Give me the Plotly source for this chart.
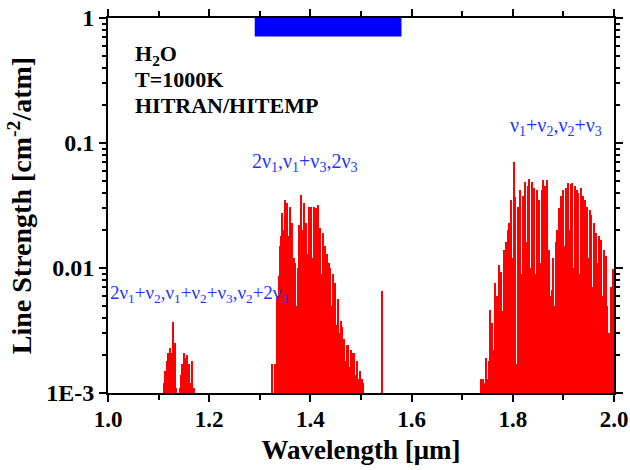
import plotly.graph_objects as go

# H2O line strengths at T = 1000 K (HITRAN/HITEMP), grouped by band
# wavelength in micrometres, strength in cm^-2/atm

# 2v1+v2, v1+v2+v3, v2+2v3 band (~1.13 um)
band_a_wl = [1.1100, 1.1120, 1.1140, 1.1160, 1.1180, 1.1200, 1.1220, 1.1240,
             1.1260, 1.1280, 1.1300, 1.1320, 1.1340,
             1.1420, 1.1440, 1.1460, 1.1480, 1.1500, 1.1520, 1.1540, 1.1560,
             1.1580, 1.1600, 1.1620, 1.1640, 1.1660, 1.1700]
band_a_s = [0.0012, 0.0015, 0.0013, 0.0018, 0.0021, 0.0016, 0.0023, 0.0021,
            0.0014, 0.0037, 0.0012, 0.0025, 0.0011,
            0.0011, 0.0014, 0.0017, 0.0013, 0.0021, 0.0019, 0.0015, 0.0020,
            0.0014, 0.0017, 0.0012, 0.0011, 0.0018, 0.0011]

# 2v1, v1+v3, 2v3 band (~1.4 um)
band_b_wl = [1.3250, 1.3300,
             1.3350, 1.3375, 1.3400, 1.3425, 1.3450, 1.3475, 1.3500, 1.3525,
             1.3550, 1.3575, 1.3600, 1.3625, 1.3650, 1.3675, 1.3700, 1.3725,
             1.3750, 1.3775, 1.3800, 1.3825, 1.3850, 1.3875, 1.3900, 1.3925,
             1.3950, 1.3975, 1.4000, 1.4025, 1.4050, 1.4075, 1.4100, 1.4125,
             1.4150, 1.4175, 1.4200, 1.4225, 1.4250, 1.4275, 1.4300, 1.4325,
             1.4350, 1.4375, 1.4400, 1.4425, 1.4450, 1.4475, 1.4500, 1.4525,
             1.4550, 1.4575, 1.4600, 1.4625, 1.4650, 1.4675, 1.4700, 1.4725,
             1.4750, 1.4775, 1.4800, 1.4825, 1.4850, 1.4875, 1.4900, 1.4925,
             1.4950, 1.4975, 1.5000, 1.5025, 1.5050,
             1.5420]
band_b_s = [0.0017, 0.0017,
            0.0060, 0.0086, 0.0149, 0.0180, 0.0275, 0.0200, 0.0347, 0.0250,
            0.0330, 0.0180, 0.0310, 0.0220, 0.0230, 0.0120, 0.0110, 0.0050,
            0.0100, 0.0220, 0.0150, 0.0386, 0.0200, 0.0330, 0.0150, 0.0230,
            0.0130, 0.0310, 0.0140, 0.0310, 0.0120, 0.0310, 0.0150, 0.0300,
            0.0320, 0.0100, 0.0210, 0.0090, 0.0190, 0.0080, 0.0150, 0.0130,
            0.0060, 0.0110, 0.0100, 0.0050, 0.0090, 0.0045, 0.0076, 0.0035,
            0.0056, 0.0030, 0.0038, 0.0034, 0.0020, 0.0027, 0.0018, 0.0024,
            0.0024, 0.0016, 0.0022, 0.0015, 0.0021, 0.0021, 0.0014, 0.0018,
            0.0013, 0.0015, 0.0011, 0.0013, 0.0012,
            0.0065]

# v1+v2, v2+v3 band (~1.87 um)
band_c_wl = [1.7375, 1.7400, 1.7425, 1.7450, 1.7475, 1.7500, 1.7525, 1.7550,
             1.7575, 1.7600, 1.7625, 1.7650, 1.7675, 1.7700, 1.7725, 1.7750,
             1.7775, 1.7800, 1.7825, 1.7850, 1.7875, 1.7900, 1.7925, 1.7950,
             1.7975, 1.8000, 1.8025, 1.8050, 1.8075, 1.8100, 1.8125, 1.8150,
             1.8175, 1.8200, 1.8225, 1.8250, 1.8275, 1.8300, 1.8325, 1.8350,
             1.8375, 1.8400, 1.8425, 1.8450, 1.8475, 1.8500, 1.8525, 1.8550,
             1.8575, 1.8600, 1.8625, 1.8650, 1.8675, 1.8700, 1.8725, 1.8750,
             1.8775, 1.8800, 1.8825, 1.8850, 1.8875, 1.8900, 1.8925, 1.8950,
             1.8975, 1.9000, 1.9025, 1.9050, 1.9075, 1.9100, 1.9125, 1.9150,
             1.9175, 1.9200, 1.9225, 1.9250, 1.9275, 1.9300, 1.9325, 1.9350,
             1.9375, 1.9400, 1.9425, 1.9450, 1.9475, 1.9500, 1.9525, 1.9550,
             1.9575, 1.9600, 1.9625, 1.9650, 1.9675, 1.9700, 1.9725, 1.9750,
             1.9775, 1.9800, 1.9825, 1.9850, 1.9875, 1.9900, 1.9925, 1.9950,
             1.9975]
band_c_s = [0.0013, 0.0011, 0.0013, 0.0012, 0.0019, 0.0013, 0.0018, 0.0046,
            0.0016, 0.0036, 0.0022, 0.0076, 0.0025, 0.0060, 0.0106, 0.0030,
            0.0093, 0.0045, 0.0140, 0.0050, 0.0160, 0.0203, 0.0230, 0.0055,
            0.0350, 0.0120, 0.0710, 0.0370, 0.0017, 0.0310, 0.0150, 0.0420,
            0.0090, 0.0380, 0.0110, 0.0490, 0.0160, 0.0450, 0.0520, 0.0100,
            0.0490, 0.0200, 0.0440, 0.0090, 0.0420, 0.0130, 0.0350, 0.0110,
            0.0420, 0.0510, 0.0160, 0.0450, 0.0510, 0.0090, 0.0140, 0.0060,
            0.0067, 0.0120, 0.0050, 0.0160, 0.0203, 0.0070, 0.0300, 0.0375,
            0.0110, 0.0420, 0.0150, 0.0440, 0.0120, 0.0480, 0.0200, 0.0470,
            0.0480, 0.0100, 0.0450, 0.0180, 0.0420, 0.0400, 0.0090, 0.0440,
            0.0140, 0.0380, 0.0350, 0.0080, 0.0310, 0.0120, 0.0290, 0.0267,
            0.0070, 0.0230, 0.0060, 0.0190, 0.0110, 0.0180, 0.0050, 0.0169,
            0.0060, 0.0140, 0.0040, 0.0124, 0.0050, 0.0030, 0.0022, 0.0070,
            0.0098]

# spectral window of the light source (um) and its marker height
source_window_um = [1.29, 1.58]
source_marker_s = [0.71, 1.0]

RED = "#ff0000"
SERIF = "Liberation Serif"

fig = go.Figure()

# sticks slightly wider than the line spacing so each band reads as a solid fill
fig.add_trace(go.Bar(x=band_a_wl, y=band_a_s, width=0.0024,
                     marker=dict(color=RED, line=dict(width=0)), showlegend=False))
fig.add_trace(go.Bar(x=band_b_wl, y=band_b_s, width=0.0029,
                     marker=dict(color=RED, line=dict(width=0)), showlegend=False))
fig.add_trace(go.Bar(x=band_c_wl, y=band_c_s, width=0.0029,
                     marker=dict(color=RED, line=dict(width=0)), showlegend=False))

# blue source-window marker along the top of the plot
w0, w1 = source_window_um
s0, s1 = source_marker_s
fig.add_trace(go.Scatter(x=[w0, w1, w1, w0, w0], y=[s0, s0, s1, s1, s0],
                         mode="lines", fill="toself", fillcolor="#0000ff",
                         line=dict(width=0, color="#0000ff"), showlegend=False,
                         hoverinfo="skip"))

minor_y = [m * 10.0 ** e for e in (-3, -2, -1) for m in range(2, 10)]

axis_common = dict(
    showline=True, linecolor="black", linewidth=2, mirror="allticks",
    ticks="outside", ticklen=7, tickwidth=2, tickcolor="black",
    showgrid=False, zeroline=False, automargin=False,
    ticklabeloverflow="allow",
)

fig.update_xaxes(
    range=[1.0, 2.0], tickvals=[1.0, 1.2, 1.4, 1.6, 1.8, 2.0],
    ticktext=["1.0", "1.2", "1.4", "1.6", "1.8", "2.0"],
    minor=dict(tickvals=[1.1, 1.3, 1.5, 1.7, 1.9], ticks="outside", ticklen=5,
               tickwidth=2, tickcolor="black"),
    ticklabelstandoff=-3,
    tickfont=dict(family=SERIF, size=23, color="black", weight="bold"),
    title=dict(text="Wavelength [\u03bcm]", standoff=10,
               font=dict(family=SERIF, size=27, color="black", weight="bold")),
    **axis_common,
)
fig.update_yaxes(
    type="log", range=[-3, 0],
    tickvals=[1e-3, 1e-2, 1e-1, 1], ticktext=["1E-3", "0.01", "0.1", "1"],
    minor=dict(tickvals=minor_y, ticks="outside", ticklen=4, tickwidth=1.5,
               tickcolor="black"),
    tickfont=dict(family=SERIF, size=24, color="black", weight="bold"),
    title=dict(text="Line Strength [cm<sup>-2</sup>/atm]", standoff=6,
               font=dict(family=SERIF, size=28, color="black", weight="bold")),
    **axis_common,
)

BLUE = "#2035ff"
notes = [
    dict(text="H<sub>2</sub>O", x=0.050, y=0.902, color="black", size=22, bold=True),
    dict(text="T=1000K", x=0.050, y=0.835, color="black", size=22, bold=True),
    dict(text="HITRAN/HITEMP", x=0.050, y=0.768, color="black", size=22, bold=True),
    dict(text="\u03bd<sub>1</sub>+\u03bd<sub>2</sub>,\u03bd<sub>2</sub>+\u03bd<sub>3</sub>",
         x=0.790, y=0.712, color=BLUE, size=20, bold=False),
    dict(text="2\u03bd<sub>1</sub>,\u03bd<sub>1</sub>+\u03bd<sub>3</sub>,2\u03bd<sub>3</sub>",
         x=0.281, y=0.614, color=BLUE, size=20, bold=False),
    dict(text="2\u03bd<sub>1</sub>+\u03bd<sub>2</sub>,\u03bd<sub>1</sub>+\u03bd<sub>2</sub>+"
              "\u03bd<sub>3</sub>,\u03bd<sub>2</sub>+2\u03bd<sub>3</sub>",
         x=0.0, y=0.265, color=BLUE, size=19, bold=False),
]
for n in notes:
    fig.add_annotation(
        text=n["text"], x=n["x"], y=n["y"], xref="paper", yref="paper",
        xanchor="left", yanchor="middle", showarrow=False,
        font=dict(family=SERIF, size=n["size"], color=n["color"],
                  weight="bold" if n["bold"] else "normal"),
    )

fig.update_layout(
    width=630, height=470,
    margin=dict(l=108, r=16, t=18, b=77),
    paper_bgcolor="white", plot_bgcolor="white",
    barmode="overlay", bargap=0,
)

fig.write_html("out.html")
